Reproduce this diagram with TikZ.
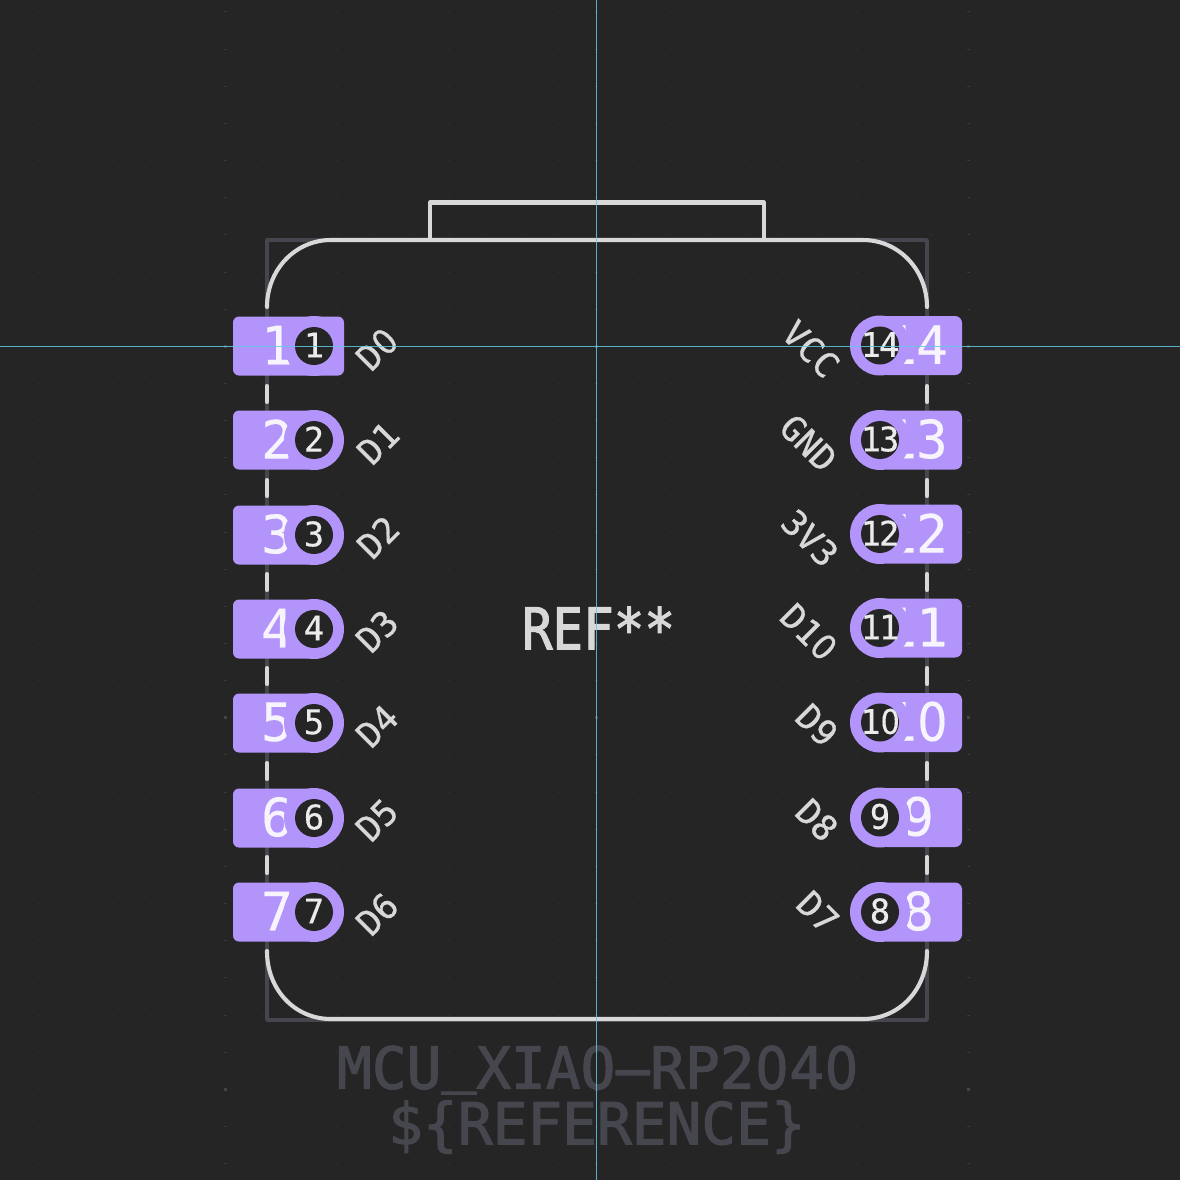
\documentclass[tikz,border=0pt]{standalone}
\usepackage{fontspec}
\usepackage{graphicx}
\setmonofont{DejaVu Sans Mono}
\newfontfamily\thickmono[FakeBold=2]{DejaVu Sans Mono}
\newfontfamily\midmono[FakeBold=0.8]{DejaVu Sans Mono}
\newfontfamily\bigmono[FakeBold=0.3,LetterSpace=-2]{DejaVu Sans Mono}
\newfontfamily\smallmono[FakeBold=0.3,LetterSpace=-6]{DejaVu Sans Mono}
\newfontfamily\thickzero[FakeBold=2]{DejaVu Sans}
\newfontfamily\midzero[FakeBold=0.8]{DejaVu Sans}
\newfontfamily\thinzero[FakeBold=0.3]{DejaVu Sans}
\definecolor{bgc}{HTML}{252525}
\definecolor{fabc}{HTML}{46464E}
\definecolor{silkc}{HTML}{D8D8D8}
\definecolor{padc}{HTML}{B294FB}
\definecolor{axisc}{HTML}{62C8E4}
\definecolor{gridc}{HTML}{444444}
\newcommand{\fs}[2]{\fontsize{#1}{#1}#2\selectfont}
% a plain (undotted) zero in a monospace cell
\newcommand{\zr}[2]{\makebox[#1][c]{\scalebox{.9}[1]{#2{}0}}}
\tikzset{
  x=1bp,y=-1bp,
  fabline/.style={draw=fabc,line width=3.6bp,line join=round},
  silkline/.style={draw=silkc,line width=4.1bp,line cap=round,line join=round},
  padfill/.style={fill=padc,draw=none},
  holefill/.style={fill=bgc,draw=none},
  biglabel/.style={text=white!90!padc,font=\fs{53}{\bigmono},inner sep=0pt,anchor=center},
  smalllabel/.style={text=white!92!black,font=\fs{34}{\smallmono},inner sep=0pt,anchor=center},
  pinname/.style={text=silkc,font=\fs{35}{\midmono},inner sep=0pt,anchor=center},
  axisline/.style={draw=axisc,line width=0.9bp,opacity=.85},
}
\begin{document}
\begin{tikzpicture}
\useasboundingbox (0,0) rectangle (1180,1180);
\fill[bgc] (0,0) rectangle (1180,1180);
% grid
\foreach \i in {-10,...,21}{\foreach \j in {-9,...,22}{
  \pgfmathsetmacro{\gx}{225.2+37.15*\i}
  \pgfmathsetmacro{\gy}{346.3+37.15*(\j)}
  \fill[gridc,opacity=.55] (\gx-.5,\gy-.5) rectangle (\gx+.5,\gy+.5);
}}
\foreach \i in {-1,...,2}{\foreach \j in {-9,...,22}{
  \pgfmathsetmacro{\gx}{225.2+371.5*\i}
  \pgfmathsetmacro{\gy}{346.3+37.15*(\j)}
  \fill[gridc,opacity=.55] (\gx-1.5,\gy-.5) rectangle (\gx+1.5,\gy+.5);
}}
\foreach \i in {0,1,2}{\foreach \j in {0,1,2}{
  \pgfmathsetmacro{\gx}{225.2+371.5*\i}
  \pgfmathsetmacro{\gy}{346.3+371.5*\j}
  \fill[gridc] (\gx-1.5,\gy-1.5) rectangle (\gx+1.5,\gy+1.5);
}}
% fab outline
\draw[fabline] (267,240) rectangle (927,1020);
% silk outline
\draw[silkline] (267,307) .. controls (267,270) and (295,240) .. (331,240) -- (863,240)
  .. controls (899,240) and (927,270) .. (927,307);
\draw[silkline] (267,951) .. controls (267,990) and (295,1019) .. (331,1019) -- (863,1019)
  .. controls (899,1019) and (927,990) .. (927,951);
\draw[silkline,line cap=butt] (430,240) -- (430,202.5) -- (764,202.5) -- (764,240);
\foreach \yy in {394,488,582,676,771,865}{
  \draw[silkline] (267,\yy-8) -- (267,\yy+8);
  \draw[silkline] (927,\yy-8) -- (927,\yy+8);
}
% left pads
\foreach \n/\yy in {1/346,2/440,3/535,4/629,5/723,6/818,7/912}{
  \ifnum\n=1
    \fill[padfill,rounded corners=6bp] (233,\yy-29.5) rectangle (344,\yy+29.5);
  \else
    \fill[padfill,rounded corners=6bp] (314,\yy-29.5) -- (233,\yy-29.5) -- (233,\yy+29.5) -- (314,\yy+29.5) [sharp corners] -- cycle;
  \fi
  \node[biglabel] (bigL\n) at (277,\yy-1) {\n};
  \fill[padfill] (314,\yy) circle[radius=30];
  \fill[holefill] (314,\yy) circle[radius=19];
  \node[smalllabel] (numL\n) at (314,\yy-1) {\n};
}
% right pads
\foreach \n/\yy/\lx in {14/345.5/916.5,13/440/916.5,12/534/916.5,11/628/916.5,10/722.5/916.5,9/817.5/918,8/912/918}{
  \fill[padfill,rounded corners=7bp] (880,\yy-29.5) -- (962,\yy-29.5) -- (962,\yy+29.5) -- (880,\yy+29.5) [sharp corners] -- cycle;
  \node[biglabel] (bigR\n) at (\lx,\yy-1) {\ifnum\n=10 1\zr{.59em}{\thinzero}\else\n\fi};
  \fill[padfill] (880,\yy) circle[radius=30];
  \fill[holefill] (880,\yy) circle[radius=19];
  \node[smalllabel] (numR\n) at (880,\yy-1) {\ifnum\n=10 1\zr{.565em}{\thinzero}\else\n\fi};
}
% pin names
\foreach \k/\t/\xx/\yy in {a/D\zr{.602em}{\midzero}/377/349,b/D1/378/443,c/D2/378/537,d/D3/377/631,e/D4/377/726,f/D5/377/820,g/D6/377/914}{
  \node[pinname,rotate=45] (nameL\k) at (\xx,\yy) {\t};
}
\foreach \k/\t/\xx/\yy in {a/VCC/811/349,b/GND/808.5/443,c/3V3/810/538,d/D1\zr{.602em}{\midzero}/809/632,e/D9/817/725,f/D8/817/820,g/D7/818/912}{
  \node[pinname,rotate=-45] (nameR\k) at (\xx,\yy) {\t};
}
% texts
\node[text=silkc,font=\fs{51}{\thickmono},inner sep=0pt] (refdes) at (598.5,628) {\scalebox{1}[1.13]{REF**}};
\node[text=fabc,font=\fs{58}{\thickmono},inner sep=0pt] (fpname) at (598,1070)
  {MCU\makebox[.602em][c]{\raisebox{8bp}{\char95}}XIAO\makebox[0.602em][c]{\scalebox{2.2}[1]{-}}RP2\zr{.602em}{\thickzero}4\zr{.602em}{\thickzero}};
\node[text=fabc,font=\fs{58}{\thickmono},inner sep=0pt] (fpref) at (597,1127) {\$\{REFERENCE\}};
% axes
\draw[axisline] (596.5,0) -- (596.5,1180);
\draw[axisline] (0,346.5) -- (1180,346.5);
\end{tikzpicture}
\end{document}
